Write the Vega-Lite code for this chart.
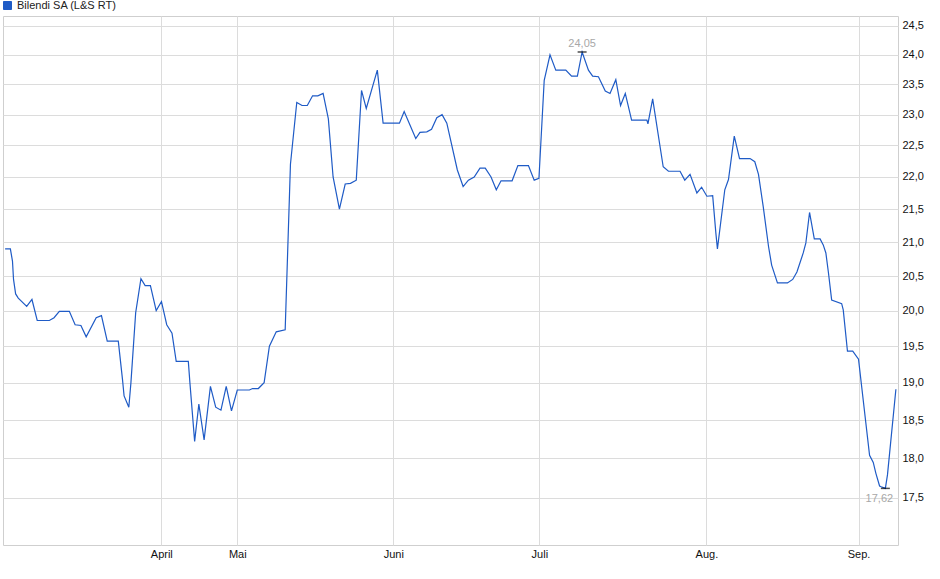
{
  "$schema": "https://vega.github.io/schema/vega-lite/v6.json",
  "width": 895,
  "height": 529,
  "autosize": {"type": "none"},
  "padding": {"left": 3, "top": 16, "right": 42, "bottom": 34},
  "background": "#ffffff",
  "config": {
    "locale": {"number": {"decimal": ",", "thousands": ".", "grouping": [3], "currency": ["", " €"]}},
    "view": {"stroke": "#cfcfcf", "strokeWidth": 1},
    "axis": {"labelFont": "Liberation Sans", "labelFontSize": 11, "labelColor": "#111111",
             "gridColor": "#dcdcdc", "gridWidth": 1, "ticks": false, "domain": false, "title": null},
    "legend": {"labelFont": "Liberation Sans", "labelFontSize": 11, "labelColor": "#222222"},
    "text": {"font": "Liberation Sans"}
  },
  "data": {"values": [
    {"i": 0.4, "close": 20.90}, {"i": 1.4, "close": 20.90}, {"i": 1.8, "close": 20.72}, {"i": 2.0, "close": 20.45},
    {"i": 2.4, "close": 20.24}, {"i": 2.9, "close": 20.18}, {"i": 4.5, "close": 20.06}, {"i": 5.5, "close": 20.16},
    {"i": 6.5, "close": 19.86}, {"i": 8.8, "close": 19.86}, {"i": 9.7, "close": 19.90}, {"i": 10.7, "close": 19.99},
    {"i": 12.6, "close": 19.99}, {"i": 13.7, "close": 19.80}, {"i": 14.8, "close": 19.79}, {"i": 15.8, "close": 19.63},
    {"i": 17.7, "close": 19.90}, {"i": 18.7, "close": 19.93}, {"i": 19.8, "close": 19.57}, {"i": 21.9, "close": 19.57},
    {"i": 22.7, "close": 19.04}, {"i": 23.0, "close": 18.82}, {"i": 23.9, "close": 18.67}, {"i": 24.3, "close": 19.00},
    {"i": 25.2, "close": 19.97}, {"i": 26.2, "close": 20.46}, {"i": 27.0, "close": 20.36}, {"i": 28.0, "close": 20.36},
    {"i": 29.1, "close": 20.00}, {"i": 30.1, "close": 20.13}, {"i": 31.1, "close": 19.80}, {"i": 32.1, "close": 19.68},
    {"i": 32.9, "close": 19.29}, {"i": 35.2, "close": 19.29}, {"i": 35.5, "close": 19.00}, {"i": 36.4, "close": 18.22},
    {"i": 37.2, "close": 18.71}, {"i": 38.2, "close": 18.24}, {"i": 39.4, "close": 18.95}, {"i": 40.4, "close": 18.67},
    {"i": 41.4, "close": 18.63}, {"i": 42.4, "close": 18.95}, {"i": 43.4, "close": 18.62}, {"i": 44.5, "close": 18.90},
    {"i": 46.8, "close": 18.90}, {"i": 47.4, "close": 18.92}, {"i": 48.5, "close": 18.92}, {"i": 49.6, "close": 19.00},
    {"i": 50.6, "close": 19.50}, {"i": 51.9, "close": 19.70}, {"i": 53.6, "close": 19.73}, {"i": 54.6, "close": 22.20},
    {"i": 55.8, "close": 23.20}, {"i": 56.8, "close": 23.15}, {"i": 57.8, "close": 23.15}, {"i": 58.8, "close": 23.31},
    {"i": 59.8, "close": 23.31}, {"i": 60.8, "close": 23.35}, {"i": 61.8, "close": 22.93}, {"i": 62.7, "close": 22.00},
    {"i": 63.9, "close": 21.50}, {"i": 65.0, "close": 21.89}, {"i": 66.0, "close": 21.90}, {"i": 67.1, "close": 21.95},
    {"i": 68.1, "close": 23.40}, {"i": 69.0, "close": 23.10}, {"i": 71.1, "close": 23.74}, {"i": 72.2, "close": 22.86},
    {"i": 75.3, "close": 22.86}, {"i": 76.2, "close": 23.05}, {"i": 78.4, "close": 22.61}, {"i": 79.2, "close": 22.71},
    {"i": 80.5, "close": 22.72}, {"i": 81.4, "close": 22.76}, {"i": 82.4, "close": 22.95}, {"i": 83.4, "close": 23.00},
    {"i": 84.3, "close": 22.86}, {"i": 86.3, "close": 22.11}, {"i": 87.4, "close": 21.85}, {"i": 88.4, "close": 21.95},
    {"i": 89.5, "close": 22.00}, {"i": 90.6, "close": 22.14}, {"i": 91.6, "close": 22.14}, {"i": 92.7, "close": 22.00},
    {"i": 93.7, "close": 21.80}, {"i": 94.6, "close": 21.94}, {"i": 96.7, "close": 21.94}, {"i": 97.8, "close": 22.18},
    {"i": 99.8, "close": 22.18}, {"i": 100.9, "close": 21.95}, {"i": 101.8, "close": 21.98}, {"i": 102.8, "close": 23.57},
    {"i": 103.9, "close": 24.00}, {"i": 105.0, "close": 23.74}, {"i": 106.9, "close": 23.74}, {"i": 108.0, "close": 23.64},
    {"i": 109.1, "close": 23.64}, {"i": 110.0, "close": 24.05}, {"i": 111.2, "close": 23.74}, {"i": 112.0, "close": 23.64},
    {"i": 113.1, "close": 23.63}, {"i": 114.4, "close": 23.39}, {"i": 115.3, "close": 23.35}, {"i": 116.4, "close": 23.58},
    {"i": 117.3, "close": 23.15}, {"i": 118.2, "close": 23.35}, {"i": 119.4, "close": 22.91}, {"i": 122.3, "close": 22.91},
    {"i": 122.5, "close": 22.85}, {"i": 123.4, "close": 23.26}, {"i": 125.4, "close": 22.16}, {"i": 126.4, "close": 22.09},
    {"i": 128.6, "close": 22.09}, {"i": 129.5, "close": 21.95}, {"i": 130.5, "close": 22.04}, {"i": 131.8, "close": 21.75},
    {"i": 132.7, "close": 21.84}, {"i": 133.7, "close": 21.70}, {"i": 134.8, "close": 21.71}, {"i": 135.4, "close": 21.14},
    {"i": 135.7, "close": 20.90}, {"i": 137.1, "close": 21.80}, {"i": 137.8, "close": 21.96}, {"i": 138.9, "close": 22.65},
    {"i": 139.9, "close": 22.29}, {"i": 141.9, "close": 22.29}, {"i": 142.8, "close": 22.24}, {"i": 143.5, "close": 22.04},
    {"i": 144.4, "close": 21.54}, {"i": 145.4, "close": 20.94}, {"i": 146.0, "close": 20.66}, {"i": 147.1, "close": 20.40},
    {"i": 149.0, "close": 20.40}, {"i": 150.0, "close": 20.45}, {"i": 150.8, "close": 20.56}, {"i": 152.0, "close": 20.84},
    {"i": 152.5, "close": 20.99}, {"i": 153.2, "close": 21.45}, {"i": 154.1, "close": 21.05}, {"i": 155.2, "close": 21.05},
    {"i": 155.8, "close": 20.96}, {"i": 156.3, "close": 20.84}, {"i": 156.8, "close": 20.54}, {"i": 157.4, "close": 20.15},
    {"i": 159.3, "close": 20.10}, {"i": 159.6, "close": 20.01}, {"i": 160.4, "close": 19.43}, {"i": 161.4, "close": 19.43},
    {"i": 162.5, "close": 19.32}, {"i": 164.6, "close": 18.04}, {"i": 165.3, "close": 17.95}, {"i": 165.8, "close": 17.81},
    {"i": 166.5, "close": 17.65}, {"i": 166.8, "close": 17.64}, {"i": 167.6, "close": 17.62}, {"i": 168.0, "close": 17.79},
    {"i": 169.6, "close": 18.91}
  ]},
  "encoding": {
    "x": {
      "field": "i",
      "type": "quantitative",
      "scale": {"domain": [0, 170], "nice": false, "zero": false},
      "axis": {
        "orient": "bottom",
        "values": [30.07, 44.5, 74.14, 101.87, 133.61, 162.5],
        "labelExpr": "datum.value < 40 ? 'April' : datum.value < 60 ? 'Mai' : datum.value < 90 ? 'Juni' : datum.value < 120 ? 'Juli' : datum.value < 150 ? 'Aug.' : 'Sep.'",
        "labelPadding": 3
      }
    },
    "y": {
      "field": "close",
      "type": "quantitative",
      "scale": {"type": "log", "domain": [16.923, 24.675], "nice": false, "zero": false},
      "axis": {
        "orient": "right",
        "values": [17.5, 18, 18.5, 19, 19.5, 20, 20.5, 21, 21.5, 22, 22.5, 23, 23.5, 24, 24.5],
        "format": ".1f",
        "labelPadding": 4
      }
    }
  },
  "layer": [
    {
      "mark": {"type": "line", "strokeWidth": 1.2, "interpolate": "linear"},
      "encoding": {
        "color": {
          "datum": "Bilendi SA (L&S RT)",
          "scale": {"range": ["#1f5bc6"]},
          "legend": {
            "title": null,
            "orient": "none",
            "legendX": -1,
            "legendY": -16,
            "padding": 0,
            "symbolType": "square",
            "symbolSize": 64,
            "labelOffset": 4,
            "encode": {"symbols": {"update": {"fill": {"value": "#1f5bc6"}, "stroke": {"value": "#1a2a55"}, "strokeWidth": {"value": 1}}}}
          }
        }
      }
    },
    {
      "transform": [
        {"joinaggregate": [{"op": "max", "field": "close", "as": "hi"}, {"op": "min", "field": "close", "as": "lo"}]},
        {"filter": "datum.close == datum.hi || datum.close == datum.lo"}
      ],
      "mark": {"type": "tick", "orient": "horizontal", "size": 9, "thickness": 1.5, "color": "#000000"}
    },
    {
      "transform": [
        {"joinaggregate": [{"op": "max", "field": "close", "as": "hi"}]},
        {"filter": "datum.close == datum.hi"}
      ],
      "mark": {"type": "text", "fontSize": 11, "color": "#a8a8a8", "baseline": "alphabetic", "dy": -5},
      "encoding": {"text": {"field": "close", "type": "quantitative", "format": ".2f"}}
    },
    {
      "transform": [
        {"joinaggregate": [{"op": "min", "field": "close", "as": "lo"}]},
        {"filter": "datum.close == datum.lo"}
      ],
      "mark": {"type": "text", "fontSize": 11, "color": "#a8a8a8", "baseline": "top", "dy": 5, "dx": -6},
      "encoding": {"text": {"field": "close", "type": "quantitative", "format": ".2f"}}
    }
  ]
}
